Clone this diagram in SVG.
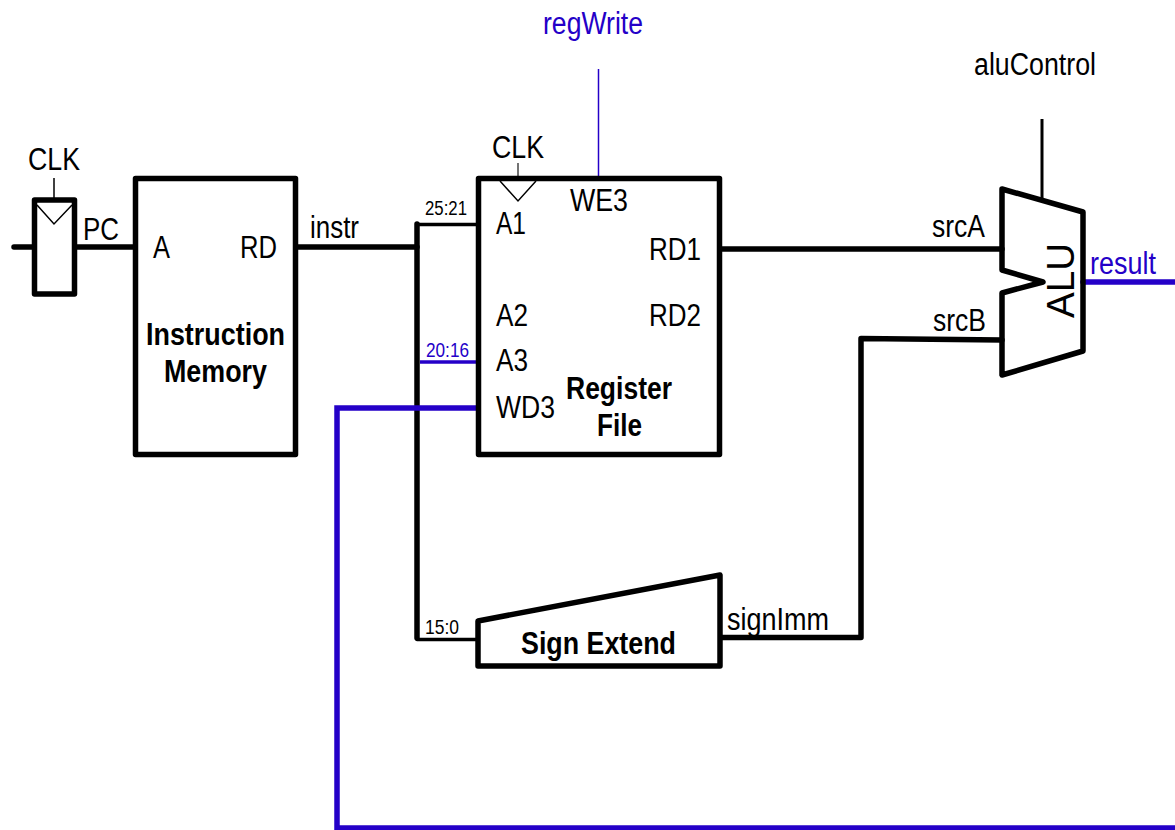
<svg xmlns="http://www.w3.org/2000/svg" width="1175" height="830" viewBox="0 0 1175 830">
<style>
text{font-family:"Liberation Sans",Arial,sans-serif;fill:#000;font-size:31px}
.b{font-weight:bold}
.s{font-size:20px}
.blue{fill:#2400c8}
.box{fill:none;stroke:#000;stroke-width:5.5;stroke-linejoin:round;stroke-linecap:round}
.thin{fill:none;stroke:#000;stroke-width:1.5}
.w{fill:none;stroke:#000;stroke-width:5.5;stroke-linejoin:round;stroke-linecap:round}
.wb{fill:none;stroke:#2400c8;stroke-width:5.5;stroke-linejoin:miter}
</style>
<g id="connectors">
<path class="w" d="M14 247H33M77 247H134"/>
<path class="w" d="M298 247H417"/>
<path class="w" d="M417 224V638"/>
<path class="w" style="stroke-width:3.500" d="M417 224.500H478M417 639.500H478"/>
<path class="wb" style="stroke-width:3.500" d="M420 362H479"/>
<path class="wb" d="M479 408H337V828H1175"/>
<path class="w" d="M722 249H1002M722 637.500H861V338.500L1002 340"/>
<path class="wb" style="stroke-linecap:round" d="M1083 282H1178"/>
<path class="thin" d="M54 178V198"/>
<path d="M518 163V176" fill="none" stroke="#444" stroke-width="1.500"/>
<path d="M598.500 69V177" fill="none" stroke="#2400c8" stroke-width="1.500"/>
<path d="M1042 119V198" fill="none" stroke="#000" stroke-width="3"/>
</g>
<g id="pc-register">
<rect class="box" x="34.500" y="200" width="40" height="94"/>
<path class="thin" d="M37 205L54 224L72 205"/>
<text x="28" y="170" textLength="52" lengthAdjust="spacingAndGlyphs">CLK</text>
<text x="83" y="240" textLength="36" lengthAdjust="spacingAndGlyphs">PC</text>
</g>
<g id="instruction-memory">
<rect class="box" x="135.500" y="178.500" width="160" height="276"/>
<text x="153" y="258" textLength="17" lengthAdjust="spacingAndGlyphs">A</text>
<text x="240" y="258" textLength="37" lengthAdjust="spacingAndGlyphs">RD</text>
<text class="b" x="146" y="345" textLength="139" lengthAdjust="spacingAndGlyphs">Instruction</text>
<text class="b" x="164" y="382" textLength="103" lengthAdjust="spacingAndGlyphs">Memory</text>
</g>
<g id="register-file">
<rect class="box" x="478.500" y="178.500" width="241" height="276"/>
<path class="thin" d="M500 181L518 201L536 181"/>
<text x="492" y="158" textLength="52" lengthAdjust="spacingAndGlyphs">CLK</text>
<text x="570" y="211" textLength="58" lengthAdjust="spacingAndGlyphs">WE3</text>
<text x="496" y="234" textLength="30" lengthAdjust="spacingAndGlyphs">A1</text>
<text x="496" y="326" textLength="32" lengthAdjust="spacingAndGlyphs">A2</text>
<text x="496" y="371" textLength="32" lengthAdjust="spacingAndGlyphs">A3</text>
<text x="496" y="418" textLength="59" lengthAdjust="spacingAndGlyphs">WD3</text>
<text x="649" y="260" textLength="52" lengthAdjust="spacingAndGlyphs">RD1</text>
<text x="649" y="326" textLength="52" lengthAdjust="spacingAndGlyphs">RD2</text>
<text class="b" x="566" y="399" textLength="106" lengthAdjust="spacingAndGlyphs">Register</text>
<text class="b" x="597" y="436" textLength="45" lengthAdjust="spacingAndGlyphs">File</text>
</g>
<g id="sign-extend">
<path class="box" d="M478 621L720 575V666H478Z"/>
<text class="b" x="521" y="654" textLength="155" lengthAdjust="spacingAndGlyphs">Sign Extend</text>
</g>
<g id="alu">
<path class="box" d="M1002 189L1083 212V351L1002 375V293L1043 282L1002 270Z"/>
<text transform="translate(1074 318) rotate(-90)" style="font-size:38px" textLength="75" lengthAdjust="spacingAndGlyphs">ALU</text>
</g>
<g id="labels">
<text class="blue" x="543" y="34" textLength="100" lengthAdjust="spacingAndGlyphs">regWrite</text>
<text x="974" y="75" textLength="122" lengthAdjust="spacingAndGlyphs">aluControl</text>
<text x="310" y="238" textLength="49" lengthAdjust="spacingAndGlyphs">instr</text>
<text class="s" x="425" y="215" textLength="42" lengthAdjust="spacingAndGlyphs">25:21</text>
<text class="s blue" x="426" y="357" textLength="43" lengthAdjust="spacingAndGlyphs">20:16</text>
<text class="s" x="425" y="634" textLength="34" lengthAdjust="spacingAndGlyphs">15:0</text>
<text x="932" y="237" textLength="53" lengthAdjust="spacingAndGlyphs">srcA</text>
<text x="933" y="331" textLength="53" lengthAdjust="spacingAndGlyphs">srcB</text>
<text class="blue" x="1090" y="274" textLength="66" lengthAdjust="spacingAndGlyphs">result</text>
<text x="727" y="630" textLength="102" lengthAdjust="spacingAndGlyphs">signImm</text>
</g>
</svg>
